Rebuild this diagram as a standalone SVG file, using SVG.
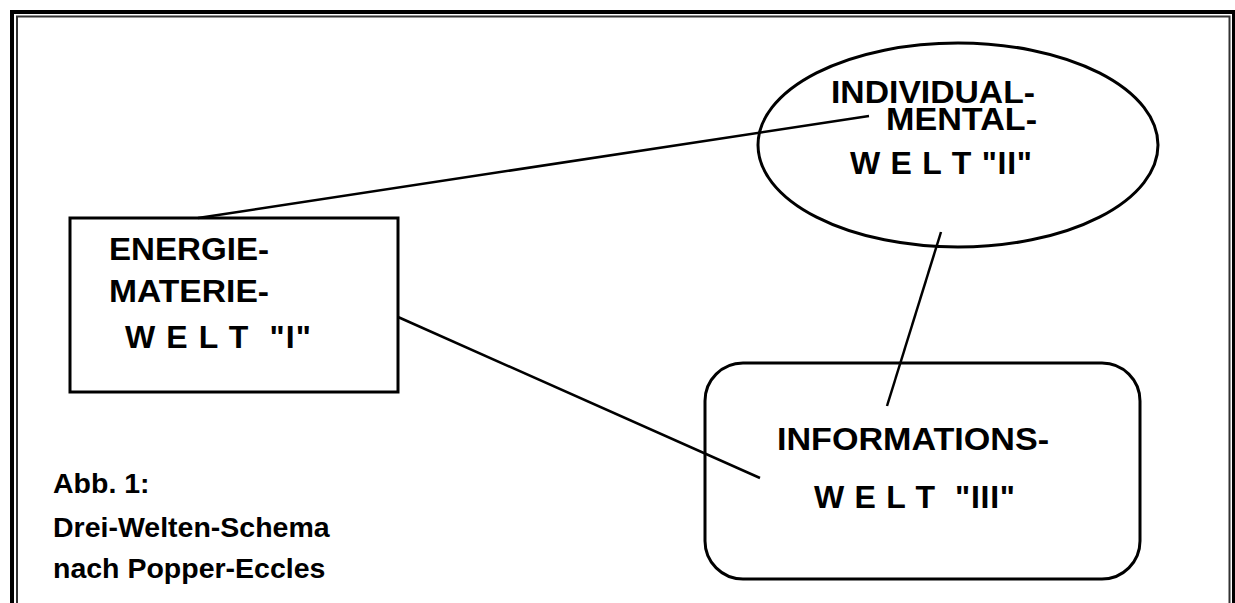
<svg xmlns="http://www.w3.org/2000/svg" width="1235" height="603" viewBox="0 0 1235 603">
<style>
.t{font-family:"Liberation Sans",Arial,sans-serif;font-weight:bold;font-size:32px;fill:#000;white-space:pre}
.c{font-family:"Liberation Sans",Arial,sans-serif;font-weight:bold;font-size:28.5px;fill:#000}
.shape{fill:#fff;stroke:#000;stroke-width:3}
.conn{stroke:#000;stroke-width:2.5;fill:none}
</style>
<rect width="1235" height="603" fill="#fff"/>
<g id="frame">
<rect x="12" y="12" width="1222" height="640" fill="none" stroke="#000" stroke-width="4"/>
<rect x="17" y="16.5" width="1212.5" height="640" fill="none" stroke="#333" stroke-width="2"/>
</g>
<g id="welt1">
<rect class="shape" x="70" y="218" width="328" height="174"/>
<text class="t" x="109" y="260" textLength="160" lengthAdjust="spacingAndGlyphs">ENERGIE-</text>
<text class="t" x="109" y="302" textLength="160" lengthAdjust="spacingAndGlyphs">MATERIE-</text>
<text class="t" x="125" y="348" textLength="186" lengthAdjust="spacing">W E L T  "I"</text>
</g>
<g id="welt2">
<ellipse class="shape" cx="958" cy="145" rx="200" ry="102"/>
<text class="t" x="831" y="103" textLength="204" lengthAdjust="spacingAndGlyphs">INDIVIDUAL-</text>
<text class="t" x="886" y="130" textLength="151" lengthAdjust="spacingAndGlyphs">MENTAL-</text>
<text class="t" x="850" y="174" textLength="182" lengthAdjust="spacing">W E L T "II"</text>
</g>
<g id="welt3">
<rect class="shape" x="705" y="363" width="435" height="216" rx="38" ry="38"/>
<text class="t" x="777" y="450" textLength="272" lengthAdjust="spacingAndGlyphs">INFORMATIONS-</text>
<text class="t" x="814" y="508" textLength="201" lengthAdjust="spacing">W E L T  "III"</text>
</g>
<g id="connectors">
<line class="conn" x1="198" y1="218" x2="869" y2="116"/>
<line class="conn" x1="398" y1="317" x2="760" y2="478"/>
<line class="conn" x1="941" y1="232" x2="887" y2="406"/>
</g>
<g id="caption">
<text class="c" x="53" y="493">Abb. 1:</text>
<text class="c" x="53" y="537">Drei-Welten-Schema</text>
<text class="c" x="53" y="578">nach Popper-Eccles</text>
</g>
</svg>
